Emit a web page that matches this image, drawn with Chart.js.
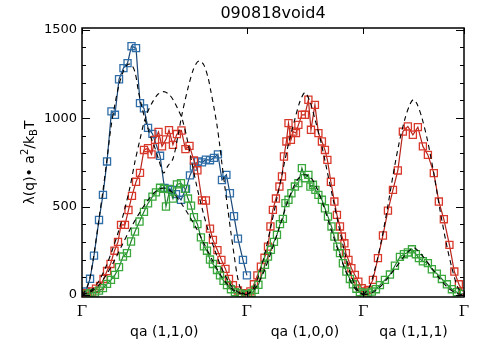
<!DOCTYPE html>
<html><head><meta charset="utf-8">
<script src="https://cdn.jsdelivr.net/npm/chart.js@4/dist/chart.umd.min.js"></script>
<style>html,body{margin:0;padding:0;background:#fff}</style>
</head><body>
<canvas id="c" width="492" height="356"></canvas>
<script>
// ---- axis / labels ----
const chartTitle = '090818void4';
const gammaTicks = [0, 1.414, 2.414, 3.280];
const gammaLabel = 'Γ';
const yTickValues = [0, 500, 1000, 1500];
const segmentLabels = ['qa (1,1,0)', 'qa (1,0,0)', 'qa (1,1,1)'];

// ---- measured series ----
const blueQ = [0.009,0.034,0.069,0.103,0.146,0.180,0.215,0.253,0.283,0.318,0.356,0.391,0.425,0.464,0.498,0.532,0.567,0.605,0.670,0.708,0.738,0.773,0.807,0.850,0.893,0.927,0.961,0.996,1.030,1.064,1.099,1.133,1.167,1.202,1.240,1.270,1.305,1.339,1.382,1.416];
const blueV = [5,19,91,222,424,566,755,1038,1019,1220,1283,1311,1407,1396,1085,1055,945,911,787,605,600,594,570,538,600,676,726,755,750,765,762,775,795,650,679,575,445,318,198,110];

const redQ = [0.009,0.043,0.086,0.120,0.155,0.185,0.215,0.245,0.279,0.309,0.335,0.369,0.399,0.429,0.464,0.498,0.532,0.567,0.597,0.627,0.657,0.687,0.721,0.747,0.781,0.815,0.854,0.888,0.923,0.961,0.991,1.030,1.064,1.099,1.124,1.163,1.197,1.232,1.262,1.296,1.339,1.373,1.408,
  1.446,1.476,1.506,1.536,1.567,1.597,1.618,1.639,1.665,1.695,1.717,1.734,1.755,1.773,1.794,1.815,1.837,1.858,1.888,1.914,1.944,1.966,2.000,2.030,2.060,2.086,2.107,2.137,2.167,2.189,2.215,2.232,2.253,2.266,2.288,2.313,2.343,2.373,2.403,2.433,
  2.455,2.498,2.541,2.584,2.627,2.670,2.712,2.755,2.798,2.841,2.884,2.927,2.970,3.021,3.064,3.107,3.155,3.197,3.236,3.270];
const redV = [5,10,19,35,50,90,135,175,250,300,396,396,480,560,640,690,820,830,795,877,922,840,880,932,849,910,930,825,843,760,705,535,534,375,311,253,198,147,90,55,25,10,5,
  20,60,110,160,210,273,387,481,545,613,670,783,868,972,877,924,915,962,1019,1019,1104,934,1075,915,868,820,764,640,528,453,387,330,292,236,198,151,113,75,38,19,
  28,85,208,336,477,594,704,924,953,906,949,840,792,689,528,428,283,132,60,20];

const greenQ = [0.034,0.069,0.112,0.146,0.180,0.215,0.249,0.283,0.318,0.352,0.386,0.421,0.455,0.494,0.532,0.567,0.605,0.635,0.670,0.704,0.721,0.755,0.781,0.815,0.850,0.884,0.910,0.936,0.961,0.991,1.021,1.047,1.073,1.099,1.124,1.159,1.185,1.215,1.245,1.279,1.313,1.356,1.399,
  1.425,1.455,1.485,1.515,1.545,1.571,1.597,1.622,1.648,1.674,1.700,1.725,1.747,1.773,1.798,1.828,1.858,1.888,1.914,1.944,1.961,1.983,2.004,2.030,2.060,2.086,2.112,2.142,2.167,2.193,2.215,2.240,2.270,2.300,2.326,2.356,2.386,2.421,
  2.455,2.489,2.524,2.558,2.601,2.644,2.687,2.730,2.764,2.798,2.833,2.867,2.893,2.927,2.970,3.004,3.047,3.090,3.133,3.176,3.219,3.262];
const greenV = [3,10,13,24,38,62,85,113,157,217,236,302,358,415,470,518,556,580,606,600,500,598,545,625,632,600,545,505,440,400,325,275,250,200,175,141,110,80,55,32,15,8,2,
  3,10,28,57,115,170,217,255,300,340,400,430,519,538,575,613,632,717,660,679,613,623,594,566,538,490,443,387,330,273,236,179,132,90,60,35,15,5,
  12,19,32,55,85,115,165,215,230,240,258,230,208,190,180,145,120,90,60,32,15,5];

// ---- theory (dashed) branches ----
const theoryLQ = [0,0.034,0.069,0.103,0.146,0.180,0.215,0.249,0.283,0.318,0.352,0.386,0.421,0.455,0.485,0.515,0.554,0.592,0.627,0.661,0.700,0.738,0.781,0.824,0.858,0.910,0.953,0.987,1.013,1.047,1.082,1.107,1.133,1.159,1.180,1.202,1.227,1.253,1.279,1.305,1.330,1.356,1.382,1.414];
const theoryLV = [0,30,100,230,430,590,770,950,1080,1190,1260,1300,1305,1260,1150,1060,965,890,830,760,690,730,770,900,1020,1170,1270,1315,1324,1300,1230,1150,1060,960,860,740,610,480,350,230,120,45,10,0];

const theoryT1Q = [0,0.069,0.137,0.206,0.258,0.309,0.361,0.412,0.455,0.498,0.532,0.567,0.609,0.652,0.700,0.747,0.790,0.828,0.858,0.897,0.940,0.987,1.039,1.090,1.142,1.193,1.262,1.330,1.414];
const theoryT1V = [0,20,70,160,250,350,470,610,755,880,975,1040,1095,1135,1150,1135,1095,1045,1000,900,760,610,470,350,250,160,70,20,0];

const theoryT2Q = [0,0.069,0.137,0.206,0.275,0.343,0.412,0.481,0.549,0.601,0.652,0.700,0.747,0.798,0.850,0.918,0.987,1.056,1.124,1.193,1.262,1.330,1.414];
const theoryT2V = [0,15,50,110,190,280,370,450,520,565,595,605,595,565,520,450,370,280,190,110,50,15,0];

const theoryU2Q = [1.414,1.4655,1.517,1.5685,1.620,1.6715,1.723,1.7745,1.826,1.869,1.914,1.959,2.002,2.0535,2.105,2.1565,2.208,2.2595,2.311,2.3625,2.414];
const theoryU2V = [0,30,110,230,380,540,700,860,990,1090,1145,1090,990,860,700,540,380,230,110,30,0];

const theoryL2Q = [1.414,1.483,1.551,1.620,1.689,1.757,1.809,1.860,1.914,1.968,2.019,2.071,2.139,2.208,2.277,2.345,2.414];
const theoryL2V = [0,35,115,235,370,510,600,660,680,660,600,510,370,235,115,35,0];

const theoryU3Q = [2.414,2.4655,2.517,2.5685,2.620,2.6715,2.723,2.7745,2.817,2.847,2.877,2.9195,2.971,3.0225,3.074,3.1255,3.177,3.2285,3.280];
const theoryU3V = [0,40,150,300,480,680,860,1000,1080,1105,1080,1000,860,680,480,300,150,40,0];

const theoryL3Q = [2.414,2.4827,2.551,2.620,2.689,2.757,2.809,2.847,2.885,2.937,3.005,3.074,3.143,3.2113,3.280];
const theoryL3V = [0,10,40,90,150,210,250,268,250,210,150,90,40,10,0];

const pts = (xs, ys) => xs.map((x, i) => ({x: x, y: ys[i]}));

function dataSet(xs, ys, line, mark) {
  return {data: pts(xs, ys), borderColor: line, borderWidth: 1.2, pointStyle: 'rect',
    pointRadius: 5, pointBorderWidth: 1.3, pointBorderColor: mark,
    pointBackgroundColor: 'rgba(0,0,0,0)', tension: 0};
}
function theorySet(xs, ys) {
  return {data: pts(xs, ys), borderColor: '#000', borderWidth: 1.1, borderDash: [5, 4],
    pointRadius: 0, tension: 0.3};
}

const decor = {
  id: 'decor',
  afterDraw(chart) {
    const ctx = chart.ctx, ca = chart.chartArea, ys = chart.scales.y, xs = chart.scales.x;
    ctx.save();
    ctx.strokeStyle = '#000'; ctx.lineWidth = 1.5;
    ctx.strokeRect(ca.left, ca.top, ca.right - ca.left, ca.bottom - ca.top);
    ctx.lineWidth = 1;
    ctx.beginPath();
    for (let v = 0; v <= 1500; v += 100) {
      const y = Math.round(ys.getPixelForValue(v)) + 0.5;
      const len = (v % 500 === 0) ? 8 : 4;
      ctx.moveTo(ca.left, y); ctx.lineTo(ca.left + len, y);
      ctx.moveTo(ca.right, y); ctx.lineTo(ca.right - len, y);
    }
    gammaTicks.forEach(g => {
      const x = Math.round(xs.getPixelForValue(g)) + 0.5;
      ctx.moveTo(x, ca.top); ctx.lineTo(x, ca.top + 6);
      ctx.moveTo(x, ca.bottom); ctx.lineTo(x, ca.bottom - 6);
    });
    ctx.stroke();
    ctx.fillStyle = '#000';
    // title
    ctx.font = '16px "DejaVu Sans"';
    ctx.textAlign = 'center'; ctx.textBaseline = 'middle';
    ctx.fillText(chartTitle, (ca.left + ca.right) / 2, 14);
    // segment labels
    ctx.font = '14px "DejaVu Sans"';
    for (let i = 0; i < 3; i++) {
      const cx = (xs.getPixelForValue(gammaTicks[i]) + xs.getPixelForValue(gammaTicks[i + 1])) / 2;
      ctx.fillText(segmentLabels[i], cx, 332);
    }
    // y title
    ctx.translate(30, (ca.top + ca.bottom) / 2);
    ctx.rotate(-Math.PI / 2);
    const parts = [['λ(q)• a', 14, 0], ['2', 10, -5], ['/k', 14, 0], ['B', 10, 4], ['T', 14, 0]];
    let total = 0;
    parts.forEach(p => { ctx.font = p[1] + 'px "DejaVu Sans"'; total += ctx.measureText(p[0]).width; });
    let x = -total / 2;
    ctx.textAlign = 'left';
    parts.forEach(p => { ctx.font = p[1] + 'px "DejaVu Sans"'; ctx.fillText(p[0], x, p[2]); x += ctx.measureText(p[0]).width; });
    ctx.restore();
  }
};

new Chart(document.getElementById('c'), {
  type: 'line',
  data: {datasets: [
    theorySet(theoryLQ, theoryLV), theorySet(theoryT1Q, theoryT1V), theorySet(theoryT2Q, theoryT2V),
    theorySet(theoryU2Q, theoryU2V), theorySet(theoryL2Q, theoryL2V),
    theorySet(theoryU3Q, theoryU3V), theorySet(theoryL3Q, theoryL3V),
    dataSet(greenQ, greenV, '#1f7f2c', '#3aa83c'),
    dataSet(redQ, redV, '#b8231a', '#d9392b'),
    dataSet(blueQ, blueV, '#1a4676', '#2f6ea8')
  ]},
  options: {
    responsive: false, animation: false,
    layout: {padding: {left: 0, right: 28, top: 28, bottom: 0}},
    plugins: {legend: {display: false}, tooltip: {enabled: false}, title: {display: false}},
    scales: {
      x: {type: 'linear', min: 0, max: 3.28,
        afterBuildTicks: s => { s.ticks = gammaTicks.map(v => ({value: v})); },
        ticks: {callback: () => gammaLabel, font: {family: 'DejaVu Serif', size: 15}, color: '#000', padding: 6, maxRotation: 0, autoSkip: false},
        grid: {display: false, drawTicks: false}, border: {display: false},
        afterFit: s => { s.height = 59; }},
      y: {type: 'linear', min: -12, max: 1510,
        afterBuildTicks: s => { s.ticks = yTickValues.map(v => ({value: v})); },
        ticks: {callback: v => String(v), font: {family: 'DejaVu Sans', size: 13}, color: '#000', padding: 5},
        grid: {display: false, drawTicks: false}, border: {display: false},
        afterFit: s => { s.width = 82; }}
    }
  },
  plugins: [decor]
});
</script>
</body></html>
